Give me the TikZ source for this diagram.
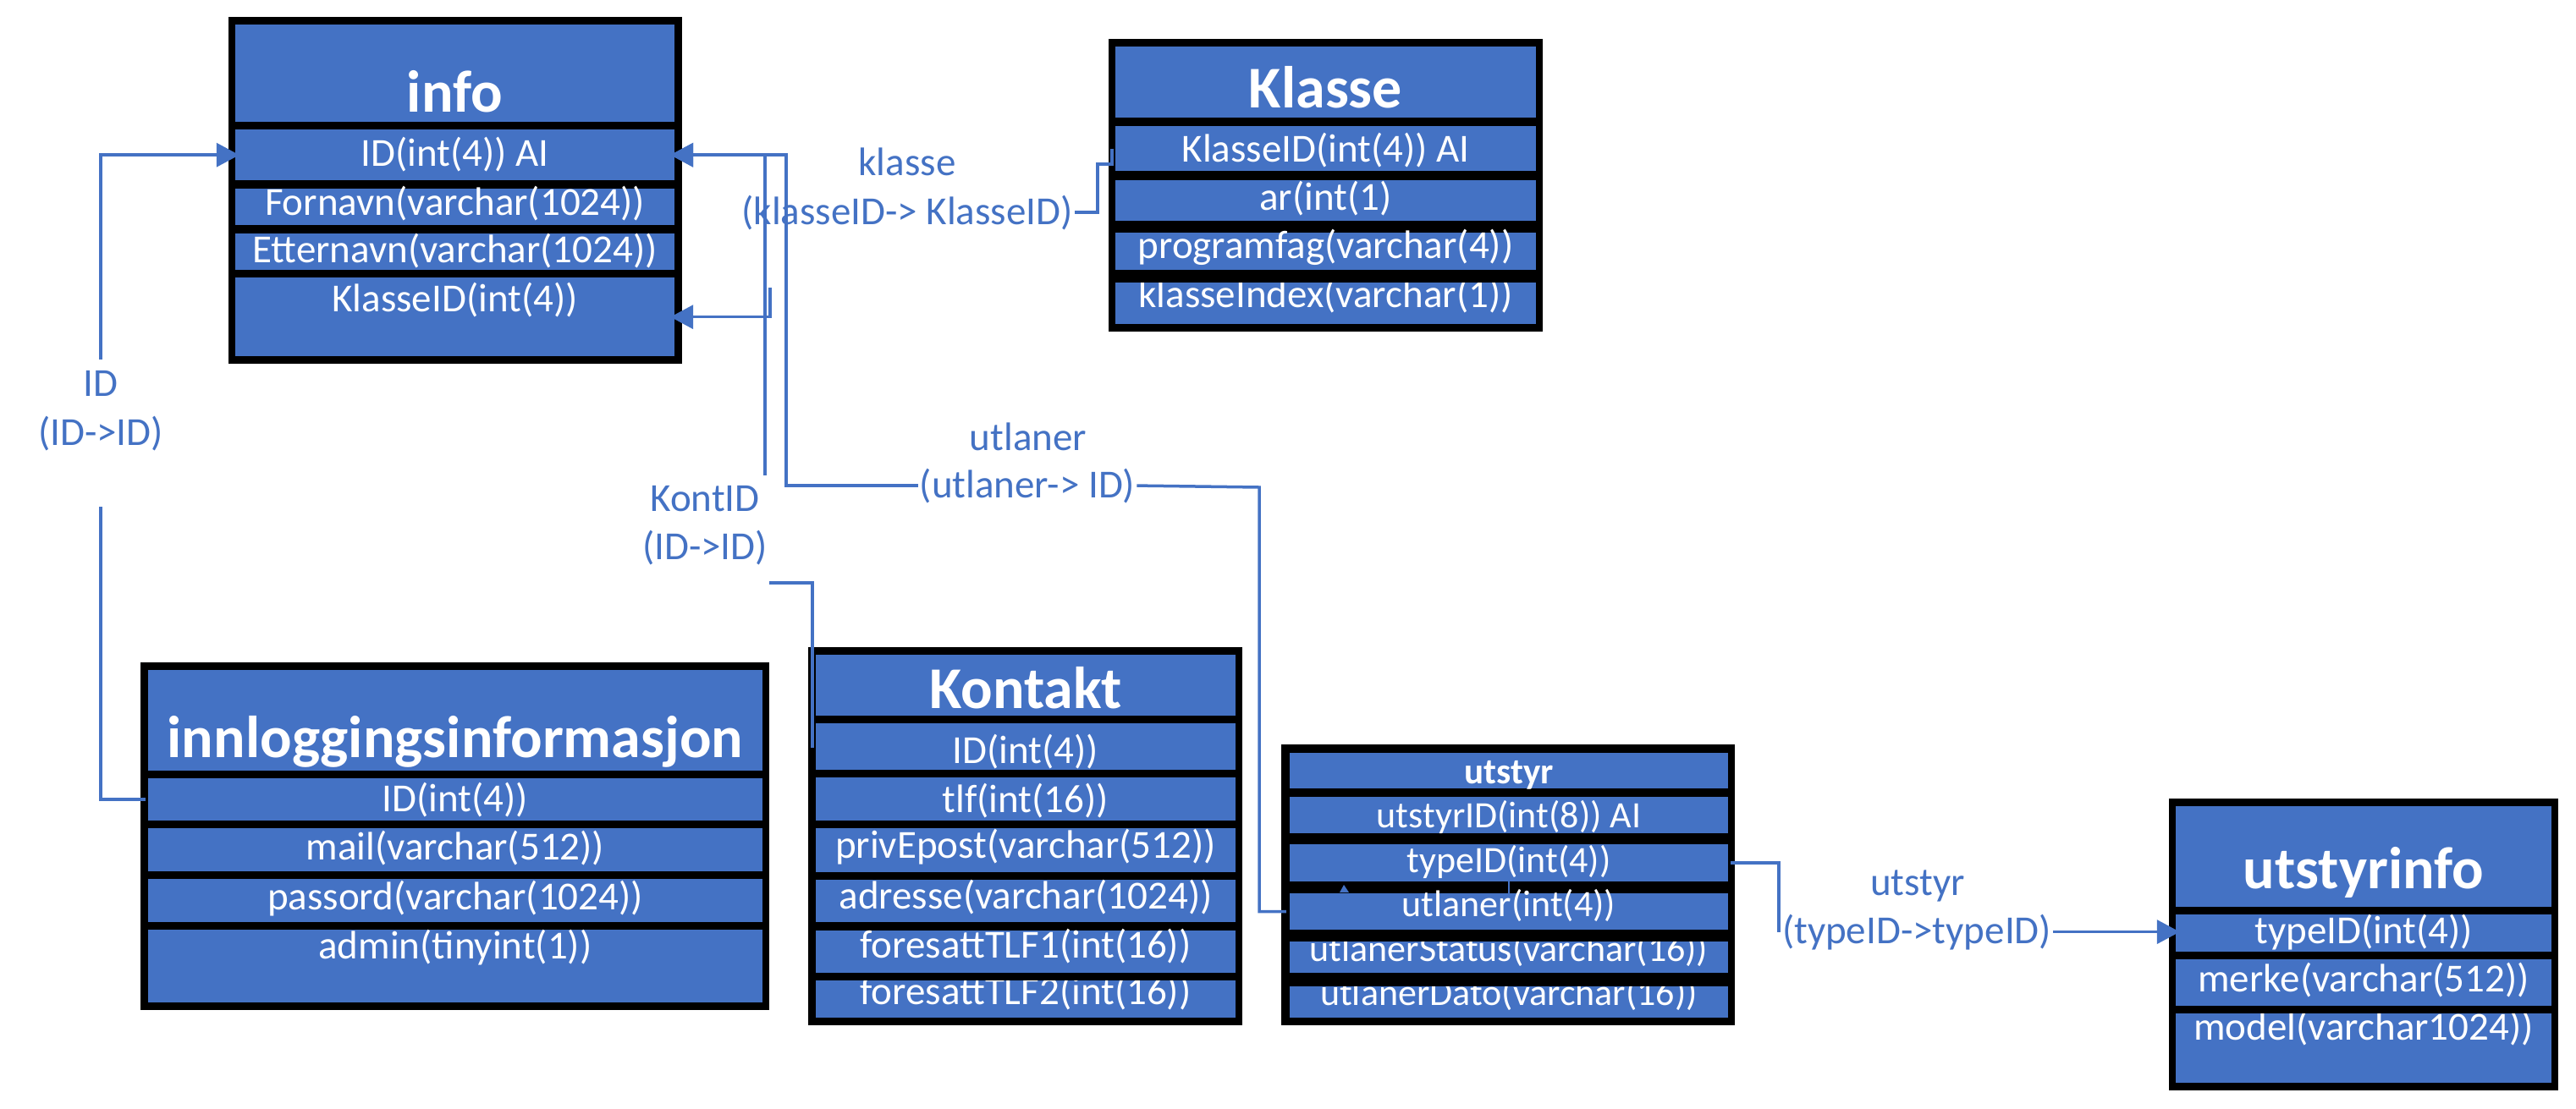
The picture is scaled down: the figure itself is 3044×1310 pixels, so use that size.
\documentclass[tikz,border=0pt]{standalone}
\usepackage{fontspec}
\setmainfont{Carlito}
\usetikzlibrary{arrows.meta,calc}
\definecolor{tblue}{HTML}{4472C4}
\newcommand\fF{\fontsize{47}{56}\selectfont}
\newcommand\fS{\fontsize{44}{52}\selectfont}
\newcommand\fT{\fontsize{70}{80}\selectfont\bfseries}
\newcommand\fST{\fontsize{43}{50}\selectfont\bfseries}
\newcommand\trow[8]{%
  \pgfmathsetmacro\myrW{#3-#2}%
  \pgfmathsetmacro\myrX{(#2+#3)/2}%
  \pgfmathsetmacro\myrH{#5-#4}%
  \pgfmathsetmacro\myrD{#6-#5}%
  \node[row, font=#7, minimum width=\myrW pt, text height=\myrH pt, text depth=\myrD pt, anchor=north] (#1) at (\myrX,#4) {#8};}
\newcommand\tbox[5]{%
  \pgfmathsetmacro\myrW{#4-#2}%
  \pgfmathsetmacro\myrH{#5-#3}%
  \node[outerbox, minimum width=\myrW pt, minimum height=\myrH pt, anchor=north west] (#1) at (#2,#3) {};}
\begin{document}
\begin{tikzpicture}[x=1pt,y=-1pt,
  outerbox/.style={fill=black, draw=none, inner sep=0pt},
  row/.style={fill=tblue, text=white, inner xsep=0pt, inner ysep=0pt, align=center},
  lbl/.style={text=tblue, font=\fF, inner sep=2pt},
  conn/.style={draw=tblue, line width=3.5pt},
  arr/.style={conn, -{Triangle[length=27pt,width=28pt]}, shorten >=-5pt}]
\useasboundingbox (0,0) rectangle (3044,1310);
\fill[white] (0,0) rectangle (3044,1310);

% ---------- info ----------
\tbox{info}{270}{20}{806}{430}
\trow{info-t}{278}{797}{29}{132}{144}{\fT}{info}
\trow{info-id}{278}{797}{153}{196}{213}{\fF}{ID(int(4)) AI}
\trow{info-fn}{278}{797}{223}{254}{266}{\fF}{Fornavn(varchar(1024))}
\trow{info-en}{278}{797}{276}{310}{319}{\fF}{Etternavn(varchar(1024))}
\trow{info-kid}{278}{797}{328}{368}{421}{\fF}{KlasseID(int(4))}

% ---------- Klasse ----------
\tbox{klasse}{1310}{46}{1823}{392}
\trow{kl-t}{1318}{1815}{55}{127}{139}{\fT}{Klasse}
\trow{kl-kid}{1318}{1815}{149}{191}{202}{\fF}{KlasseID(int(4)) AI}
\trow{kl-ar}{1318}{1815}{213}{248}{261}{\fF}{ar(int(1)}
\trow{kl-pf}{1318}{1815}{275}{305}{319}{\fF}{programfag(varchar(4))}
\trow{kl-ki}{1318}{1815}{334}{363}{383}{\fF}{klasseIndex(varchar(1))}
\fill[black] (1318,319) rectangle (1815,334);

% ---------- innloggingsinformasjon ----------
\tbox{innlog}{166}{783}{909}{1194}
\trow{inn-t}{175}{901}{792}{895}{911}{\fT}{innloggingsinformasjon}
\trow{inn-id}{175}{901}{920}{959}{970}{\fF}{ID(int(4))}
\trow{inn-ml}{175}{901}{979}{1016}{1030}{\fF}{mail(varchar(512))}
\trow{inn-pw}{175}{901}{1039}{1075}{1090}{\fF}{passord(varchar(1024))}
\trow{inn-ad}{175}{901}{1099}{1133}{1185}{\fF}{admin(tinyint(1))}

% ---------- Kontakt ----------
\tbox{kontakt}{955}{765}{1468}{1212}
\trow{kon-t}{964}{1460}{774}{837}{846}{\fT}{Kontakt}
\trow{kon-id}{964}{1460}{855}{902}{910}{\fF}{ID(int(4))}
\trow{kon-tlf}{964}{1460}{919}{960}{970}{\fF}{tlf(int(16))}
\trow{kon-pe}{964}{1460}{979}{1014}{1031}{\fF}{privEpost(varchar(512))}
\trow{kon-adr}{964}{1460}{1040}{1074}{1090}{\fF}{adresse(varchar(1024))}
\trow{kon-f1}{964}{1460}{1100}{1132}{1150}{\fF}{foresattTLF1(int(16))}
\trow{kon-f2}{964}{1460}{1159}{1187}{1203}{\fF}{foresattTLF2(int(16))}
\fill[black] (964,1150) rectangle (1460,1159);

% ---------- utstyr ----------
\tbox{utstyr}{1514}{880}{2050}{1212}
\trow{ut-t}{1524}{2042}{890}{926}{932}{\fST}{utstyr}
\trow{ut-uid}{1524}{2042}{942}{978}{985}{\fS}{utstyrID(int(8)) AI}
\trow{ut-tid}{1524}{2042}{998}{1031}{1042}{\fS}{typeID(int(4))}
\trow{ut-utl}{1524}{2042}{1056}{1083}{1099}{\fS}{utlaner(int(4))}
\trow{ut-st}{1524}{2042}{1113}{1136}{1150}{\fS}{utlanerStatus(varchar(16))}
\trow{ut-da}{1524}{2042}{1166}{1188}{1203}{\fS}{utlanerDato(varchar(16))}
\fill[black] (1524,1099) rectangle (2042,1113);
\fill[black] (1524,1150) rectangle (2042,1166);
\fill[black] (1524,1203) rectangle (2042,1212);
\fill[tblue] (1583,1055) -- (1588,1046) -- (1594,1055) -- cycle;
\draw[tblue, line width=2.5pt] (1783,1042) -- (1783,1056);

% ---------- utstyrinfo ----------
\tbox{utstyrinfo}{2563}{944}{3023}{1289}
\trow{ui-t}{2571}{3015}{953}{1050}{1072}{\fT}{utstyrinfo}
\trow{ui-tid}{2571}{3015}{1081}{1115}{1125}{\fF}{typeID(int(4))}
\trow{ui-mk}{2571}{3015}{1134}{1172}{1189}{\fF}{merke(varchar(512))}
\trow{ui-md}{2571}{3015}{1198}{1229}{1280}{\fF}{model(varchar1024))}
\fill[black] (2571,1189) rectangle (3015,1198);

% ---------- labels ----------
\node[lbl, anchor=base] (kl1) at (1072,207) {klasse};
\node[lbl, anchor=base] (kl2) at (1072,265) {(klasseID-> KlasseID)};
\node[lbl, anchor=base] (id1) at (119,468) {ID};
\node[lbl, anchor=base] (id2) at (119,526) {(ID->ID)};
\node[lbl, anchor=base] (ko1) at (833,604) {KontID};
\node[lbl, anchor=base] (ko2) at (833,661) {(ID->ID)};
\node[lbl, anchor=base] (ul1) at (1215,532) {utlaner};
\node[lbl, anchor=base] (ul2) at (1214,588) {(utlaner-> ID)};
\node[lbl, anchor=base] (us1) at (2266,1058) {utstyr};
\node[lbl, anchor=base] (us2) at (2265,1115) {(typeID->typeID)};

% ---------- connectors ----------
\coordinate (idLo) at (119,599);
\coordinate (idHi) at (119,425);
\draw[conn] ([xshift=-3pt]inn-id.west) -| (idLo);
\draw[arr] (idHi) |- (info-id.west);

\coordinate (klTurn) at (1297,194);
\coordinate (klEnd) at (910,340);
\draw[conn] ([xshift=-4pt]kl-kid.west) |- (klTurn) |- (kl2.east);
\draw[arr] (klEnd) |- (info-kid.east);

\coordinate (kontLo) at (909,689);
\coordinate (kontHi) at (904,562);
\draw[conn] ([xshift=-4pt,yshift=-1pt]kon-id.west) |- (kontLo);
\draw[arr] (kontHi) |- (info-id.east);

\coordinate (ulCorner) at (929,0);
\draw[conn] ([xshift=-4pt]ut-utl.west) -| (1488,576) -- (ul2.east);
\draw[arr] (ul2.west) -| (ulCorner |- info-id.east) -- (info-id.east);

\draw[conn] ([xshift=3pt]ut-tid.east) -| ([xshift=-2pt]us2.west);
\draw[arr] (us2.east) -- (us2.east -| ui-tid.west);
\end{tikzpicture}
\end{document}
